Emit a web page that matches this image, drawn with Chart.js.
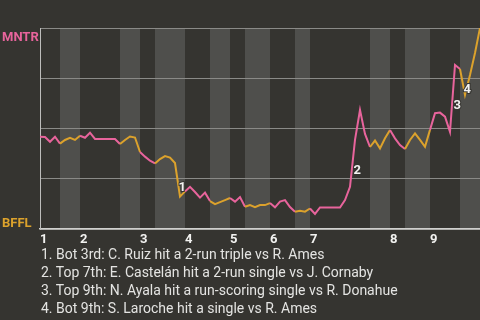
<!DOCTYPE html>
<html lang="en">
<head>
  <meta charset="UTF-8" />
  <title>Win probability</title>
  <script src="https://cdn.jsdelivr.net/npm/chart.js"></script>
  <style>
    html, body {
      margin: 0;
      padding: 0;
      background: #353430;
    }

    #wrap {
      position: relative;
      width: 480px;
      height: 320px;
      overflow: hidden;
    }

    #notes {
      position: absolute;
      left: 41px;
      top: 245px;
      font-family: Roboto, sans-serif;
      font-size: 14px;
      line-height: 18px;
      color: #e4e4e2;
      white-space: nowrap;
    }
  </style>
</head>

<body>
  <div id="wrap">
    <canvas id="wpChart"></canvas>
    <div id="notes">
      <div>1. Bot 3rd: C. Ruiz hit a 2-run triple vs R. Ames</div>
      <div>2. Top 7th: E. Castelán hit a 2-run single vs J. Cornaby</div>
      <div>3. Top 9th: N. Ayala hit a run-scoring single vs R. Donahue</div>
      <div>4. Bot 9th: S. Laroche hit a single vs R. Ames</div>
    </div>
  </div>
  <script>
    // teams (top = away, bottom = home)
    const teams = ['MNTR', 'BFFL'];
    const teamColors = ['#e8649c', '#dca22c'];

    // first play index of each half inning (top 1, bot 1, top 2, ...)
    const halfStarts = [0, 4, 8, 16, 20, 23, 29, 34, 38, 41, 46, 51, 54, 66, 70, 73, 78, 84];
    const lastPlay = 88;
    const innings = ['1', '2', '3', '4', '5', '6', '7', '8', '9'];

    // MNTR win probability (%) after each play
    const winProb = [
      45.9, 45.8, 43.4, 45.9, 42.5, 44.3, 45.3, 44.3, 46.4, 45.4,
      47.9, 44.8, 44.8, 44.8, 44.8, 44.8, 42.3, 44.3, 46.0, 45.5,
      38.3, 36.0, 34.0, 32.6, 34.8, 36.3, 35.5, 32.8, 16.1, 18.7,
      21.0, 18.4, 15.6, 18.1, 13.9, 12.4, 13.4, 14.4, 15.4, 13.6,
      15.9, 11.1, 11.9, 10.9, 11.9, 11.9, 12.9, 10.8, 13.6, 14.4,
      10.9, 8.6, 9.1, 8.6, 10.2, 7.5, 10.7, 10.7, 10.7, 10.7,
      10.7, 14.4, 21.0, 44.3, 59.2, 47.3, 40.8, 44.0, 40.1, 45.1,
      49.3, 45.1, 41.8, 39.8, 44.3, 47.6, 44.3, 40.9, 49.3, 57.6,
      57.9, 55.9, 48.3, 81.6, 79.6, 66.7, 76.6, 87.6, 100
    ];

    // big plays: index of the point the play ends on
    const eventPlays = [28, 63, 83, 85];

    const bgColor = '#353430';
    const bandColor = '#4f4f4c';

    function halfOf(i) {
      let h = 0;
      for (let k = 0; k < halfStarts.length; k++) {
        if (halfStarts[k] <= i) h = k;
      }
      return h;
    }

    // 背景と裏の半イニングの帯
    const bandsPlugin = {
      id: 'bands',
      beforeDraw(chart) {
        const { ctx, chartArea, width, height } = chart;
        const x = chart.scales.x;
        ctx.save();
        ctx.fillStyle = bgColor;
        ctx.fillRect(0, 0, width, height);
        ctx.fillStyle = bandColor;
        for (let k = 1; k < halfStarts.length; k += 2) {
          const end = k + 1 < halfStarts.length ? halfStarts[k + 1] : lastPlay;
          const x0 = x.getPixelForValue(halfStarts[k]);
          const x1 = x.getPixelForValue(end);
          ctx.fillRect(x0, chartArea.top, x1 - x0, chartArea.bottom - chartArea.top);
        }
        ctx.restore();
      }
    };

    // 番号ラベルとチーム名
    const labelsPlugin = {
      id: 'labels',
      afterDatasetsDraw(chart) {
        const { ctx, chartArea } = chart;
        const pts = chart.getDatasetMeta(0).data;
        ctx.save();
        ctx.font = 'bold 13px Roboto, sans-serif';
        ctx.textAlign = 'left';
        ctx.textBaseline = 'top';
        eventPlays.forEach((p, n) => {
          const a = pts[p - 1], b = pts[p];
          const mx = (a.x + b.x) / 2 + 1;
          const my = (a.y + b.y) / 2 + 1;
          ctx.lineWidth = 2;
          ctx.strokeStyle = bgColor;
          ctx.strokeText(String(n + 1), mx, my);
          ctx.fillStyle = '#f2f2f0';
          ctx.fillText(String(n + 1), mx, my);
        });
        ctx.textBaseline = 'alphabetic';
        ctx.fillStyle = teamColors[0];
        ctx.fillText(teams[0], 2, chartArea.top + 13);
        ctx.fillStyle = teamColors[1];
        ctx.fillText(teams[1], 2, chartArea.bottom - 2);
        ctx.restore();
      }
    };

    const chart = new Chart(document.getElementById('wpChart'), {
      type: 'line',
      data: {
        datasets: [{
          data: winProb.map((v, i) => ({ x: i, y: v })),
          borderWidth: 2,
          pointRadius: 0,
          tension: 0,
          borderColor: teamColors[0],
          segment: {
            borderColor: c => teamColors[halfOf(c.p0DataIndex) % 2]
          }
        }]
      },
      options: {
        responsive: true,
        maintainAspectRatio: false,
        animation: false,
        layout: { padding: { top: 28, left: 0, right: 0, bottom: 0 } },
        plugins: {
          legend: { display: false },
          tooltip: { enabled: false }
        },
        scales: {
          x: {
            type: 'linear',
            min: 0,
            max: lastPlay,
            afterBuildTicks: s => {
              s.ticks = halfStarts.filter((v, k) => k % 2 === 0).map(v => ({ value: v }));
            },
            afterFit: s => { s.height = 91; },
            ticks: {
              autoSkip: false,
              maxRotation: 0,
              align: 'start',
              padding: 3,
              color: '#f2f2f0',
              font: { family: 'Roboto', weight: 'bold', size: 13 },
              callback: (v, i) => innings[i]
            },
            grid: { display: false, drawTicks: false },
            border: { color: '#d0d0ce', width: 1.5 }
          },
          y: {
            min: 0,
            max: 100,
            afterFit: s => { s.width = 40; },
            ticks: { display: false, stepSize: 25 },
            grid: { color: '#8a8a87', lineWidth: 1, drawTicks: false },
            border: { color: '#bdbdbb', width: 1 }
          }
        }
      },
      plugins: [bandsPlugin, labelsPlugin]
    });
  </script>
</body>

</html>
